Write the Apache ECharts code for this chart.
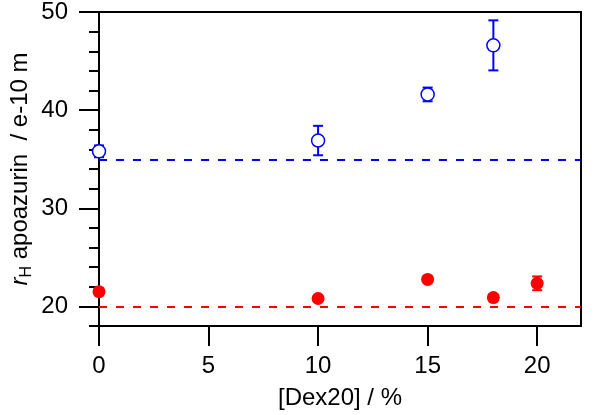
<!DOCTYPE html>
<html><head><meta charset="utf-8">
<script src="https://cdn.jsdelivr.net/npm/echarts@6/dist/echarts.min.js"></script>
<style>html,body{margin:0;padding:0;background:#fff}#c{width:600px;height:415px}</style>
</head><body><div id="c"></div>
<script>
// Blue open circles (with error bars)
const dexBlue = [0, 10, 15, 18];
const rhBlue = [35.8, 36.9, 41.6, 46.6];
const errBlue = [0.6, 1.5, 0.7, 2.55];
// Red filled circles
const dexRed = [0, 10, 15, 18, 20];
const rhRed = [21.5, 20.8, 22.75, 20.9, 22.35];
const errRed = [0.3, 0.3, 0.3, 0.3, 0.7];
// Dashed reference levels
const baselineBlue = 34.9;
const baselineRed = 20.0;
// Tick labels
const xTicks = [0, 5, 10, 15, 20];
const yTicks = [20, 30, 40, 50];

const BLUE = '#0000ff', RED = '#ff0000';
const FONT = '"Liberation Sans", Arial, Helvetica, sans-serif';

function errRender(color) {
  return function (params, api) {
    const x = api.value(0), lo = api.value(1), hi = api.value(2);
    const p1 = api.coord([x, hi]), p2 = api.coord([x, lo]);
    const hw = 5;
    const style = { stroke: color, lineWidth: 2 };
    return { type: 'group', children: [
      { type: 'line', shape: { x1: p1[0], y1: p1[1], x2: p2[0], y2: p2[1] }, style },
      { type: 'line', shape: { x1: p1[0] - hw, y1: p1[1], x2: p1[0] + hw, y2: p1[1] }, style },
      { type: 'line', shape: { x1: p2[0] - hw, y1: p2[1], x2: p2[0] + hw, y2: p2[1] }, style }
    ]};
  };
}

const blueErrData = dexBlue.map((x, i) => [x, rhBlue[i] - errBlue[i], rhBlue[i] + errBlue[i]]);
const redErrData = dexRed.map((x, i) => [x, rhRed[i] - errRed[i], rhRed[i] + errRed[i]]);
const bluePts = dexBlue.map((x, i) => [x, rhBlue[i]]);
const redPts = dexRed.map((x, i) => [x, rhRed[i]]);

const chart = echarts.init(document.getElementById('c'), null, { renderer: 'canvas' });
chart.setOption({
  animation: false,
  backgroundColor: '#fff',
  textStyle: { fontFamily: FONT },
  grid: { left: 94, top: 12, width: 487, height: 314, show: true, borderColor: '#000', borderWidth: 2, backgroundColor: 'transparent' },
  xAxis: {
    type: 'value', min: 0, max: 22, position: 'bottom',
    axisLine: { onZero: false, lineStyle: { color: '#000', width: 2 } },
    axisTick: { customValues: xTicks, length: 20, inside: false, lineStyle: { color: '#000', width: 2 } },
    axisLabel: { customValues: xTicks, margin: 28, fontSize: 24, color: '#000', fontFamily: FONT },
    splitLine: { show: false },
    name: '[Dex20] / %', nameLocation: 'middle', nameGap: 60,
    nameTextStyle: { fontSize: 24, color: '#000', fontFamily: FONT }
  },
  yAxis: [{
    type: 'value', min: 18, max: 50, interval: 2, position: 'left',
    axisLine: { onZero: false, lineStyle: { color: '#000', width: 2 } },
    axisTick: { length: 10, inside: false, lineStyle: { color: '#000', width: 2 } },
    axisLabel: { show: false },
    splitLine: { show: false },
    name: '{i|r}{s|H} apoazurin  / e-10 m', nameLocation: 'middle', nameGap: 64, nameRotate: 90,
    nameTextStyle: { fontSize: 24, color: '#000', fontFamily: FONT,
      rich: { i: { fontStyle: 'italic', fontSize: 24, fontFamily: FONT, color: '#000' },
              s: { fontSize: 16, fontFamily: FONT, color: '#000', padding: [14, 0, 0, 0] } } }
  }, {
    type: 'value', min: 18, max: 50, position: 'left',
    axisLine: { show: false },
    axisTick: { customValues: yTicks, length: 20, inside: false, lineStyle: { color: '#000', width: 2 } },
    axisLabel: { customValues: yTicks, margin: 31, fontSize: 24, color: '#000', fontFamily: FONT },
    splitLine: { show: false }
  }],
  series: [
    { type: 'custom', name: 'blueErr', xAxisIndex: 0, yAxisIndex: 0, renderItem: errRender(BLUE), data: blueErrData, z: 3, encode: { x: 0, y: [1, 2] } },
    { type: 'custom', name: 'redErr', xAxisIndex: 0, yAxisIndex: 0, renderItem: errRender(RED), data: redErrData, z: 3, encode: { x: 0, y: [1, 2] } },
    { type: 'scatter', name: 'blue', data: bluePts, symbol: 'circle', symbolSize: 13, z: 5,
      itemStyle: { color: '#fff', borderColor: BLUE, borderWidth: 1.5, opacity: 1 },
      markLine: { silent: true, symbol: 'none', label: { show: false },
        lineStyle: { color: BLUE, width: 2, type: [8, 9] }, data: [{ yAxis: baselineBlue }] } },
    { type: 'scatter', name: 'red', data: redPts, symbol: 'circle', symbolSize: 13, z: 5,
      itemStyle: { color: RED, opacity: 1 },
      markLine: { silent: true, symbol: 'none', label: { show: false },
        lineStyle: { color: RED, width: 2, type: [8, 9] }, data: [{ yAxis: baselineRed }] } }
  ]
});
</script></body></html>
